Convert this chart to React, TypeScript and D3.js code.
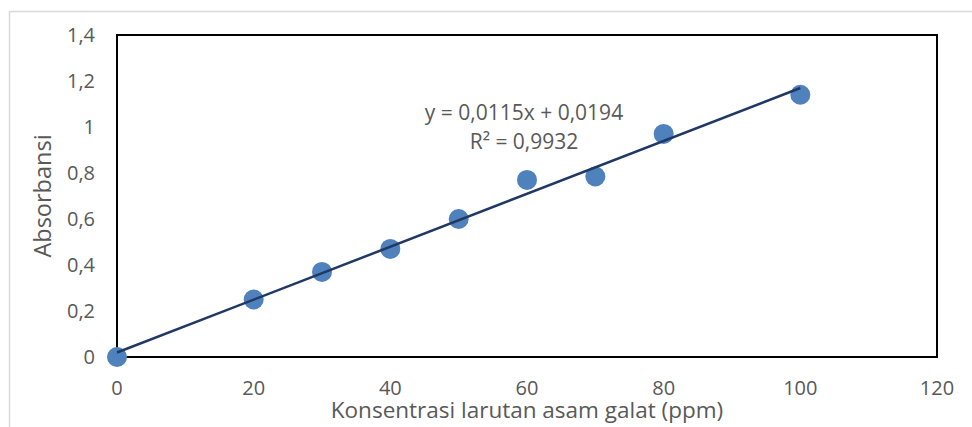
import React, { useEffect, useRef } from "react";
import * as d3 from "d3";

// values
const xValues = [0, 20, 30, 40, 50, 60, 70, 80, 100];
const yValues = [0, 0.25, 0.37, 0.47, 0.6, 0.77, 0.785, 0.97, 1.14];
const xTicks = [0, 20, 40, 60, 80, 100, 120];
const yTicks = [0, 0.2, 0.4, 0.6, 0.8, 1, 1.2, 1.4];
const slope = 0.0115;
const intercept = 0.0194;
const equationLines = ["y = 0,0115x + 0,0194", "R² = 0,9932"];
const xTitle = "Konsentrasi larutan asam galat (ppm)";
const yTitle = "Absorbansi";

const W = 972;
const H = 427;
const margin = { top: 35, right: 35, bottom: 70, left: 117 };
const font = "'Open Sans', Lato, sans-serif";

const App = () => {
  const svgRef = useRef<SVGSVGElement>(null);

  useEffect(() => {
    const svg = d3.select(svgRef.current);
    svg.selectAll("*").remove();

    const x = d3.scaleLinear().domain([0, 120]).range([margin.left, W - margin.right]);
    const y = d3.scaleLinear().domain([0, 1.4]).range([H - margin.bottom, margin.top]);
    const fmt = (v: number) => String(+v.toFixed(1)).replace(".", ",");

    // chart area border
    svg
      .append("rect")
      .attr("x", 9.5)
      .attr("y", 11.5)
      .attr("width", W + 10)
      .attr("height", H + 10)
      .attr("fill", "#fff")
      .attr("stroke", "#d9d9d9")
      .attr("stroke-width", 1.5);

    // plot frame
    svg
      .append("rect")
      .attr("x", x(0))
      .attr("y", y(1.4))
      .attr("width", x(120) - x(0))
      .attr("height", y(0) - y(1.4))
      .attr("fill", "none")
      .attr("stroke", "#000")
      .attr("stroke-width", 2);

    // y tick labels
    svg
      .append("g")
      .selectAll("text")
      .data(yTicks)
      .join("text")
      .attr("x", 95)
      .attr("y", (d) => y(d))
      .attr("dy", "0.35em")
      .attr("text-anchor", "end")
      .attr("font-family", font)
      .attr("font-size", 20)
      .attr("fill", "#595959")
      .text(fmt);

    // x tick labels
    svg
      .append("g")
      .selectAll("text")
      .data(xTicks)
      .join("text")
      .attr("x", (d) => x(d))
      .attr("y", 395)
      .attr("text-anchor", "middle")
      .attr("font-family", font)
      .attr("font-size", 20)
      .attr("fill", "#595959")
      .text((d) => String(d));

    // axis titles
    svg
      .append("text")
      .attr("x", (x(0) + x(120)) / 2)
      .attr("y", 418)
      .attr("text-anchor", "middle")
      .attr("font-family", font)
      .attr("font-size", 22.5)
      .attr("fill", "#595959")
      .text(xTitle);

    svg
      .append("text")
      .attr("transform", `translate(43, ${(y(0) + y(1.4)) / 2}) rotate(-90)`)
      .attr("dy", "0.35em")
      .attr("text-anchor", "middle")
      .attr("font-family", font)
      .attr("font-size", 23.5)
      .attr("fill", "#595959")
      .text(yTitle);

    // points
    svg
      .append("g")
      .selectAll("circle")
      .data(xValues.map((v, i) => [v, yValues[i]]))
      .join("circle")
      .attr("cx", (d) => x(d[0]))
      .attr("cy", (d) => y(d[1]))
      .attr("r", 10)
      .attr("fill", "#4f81bd");

    // trendline
    const line = d3
      .line<number>()
      .x((d) => x(d))
      .y((d) => y(slope * d + intercept));
    svg
      .append("path")
      .datum([0, 100])
      .attr("d", line)
      .attr("fill", "none")
      .attr("stroke", "#203864")
      .attr("stroke-width", 2.5);

    // equation label
    svg
      .append("g")
      .selectAll("text")
      .data(equationLines)
      .join("text")
      .attr("x", 524)
      .attr("y", (d, i) => 113 + i * 29)
      .attr("dy", "0.35em")
      .attr("text-anchor", "middle")
      .attr("font-family", font)
      .attr("font-size", 21)
      .attr("fill", "#595959")
      .text((d) => d);
  }, []);

  return (
    <svg
      ref={svgRef}
      width={W}
      height={H}
      style={{ position: "absolute", left: 0, top: 0, display: "block" }}
    ></svg>
  );
};

export default App;
